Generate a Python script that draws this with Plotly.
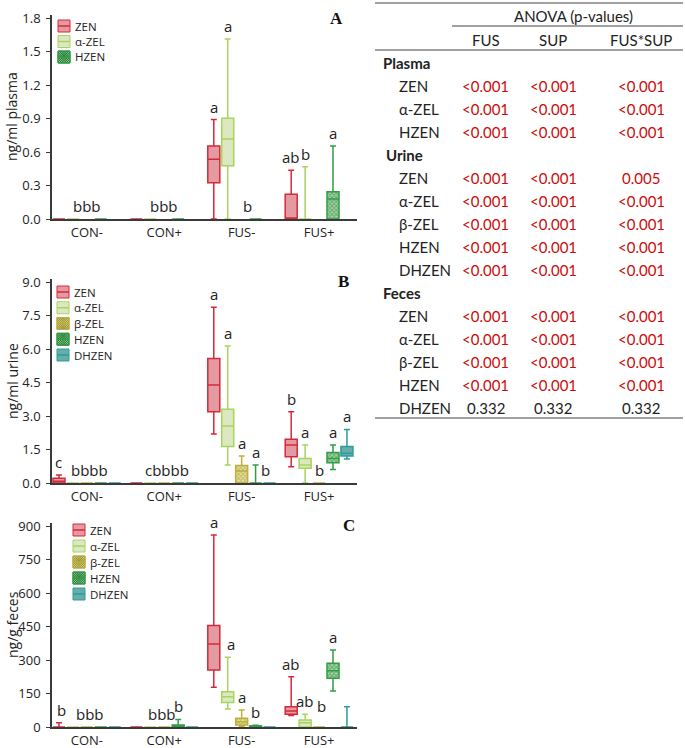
import plotly.graph_objects as go

W, H = 685, 748

categories = ["CON-", "CON+", "FUS-", "FUS+"]
compounds = ["ZEN", "α-ZEL", "β-ZEL", "HZEN", "DHZEN"]

# box statistics per group: [min, q1, median, q3, max]
plasma_zen = [[0, 0, 0, 0, 0], [0, 0, 0, 0, 0], [0, 0.325, 0.535, 0.654, 0.89], [0, 0, 0, 0.221, 0.436]]
plasma_azel = [[0, 0, 0, 0, 0], [0, 0, 0, 0, 0], [0, 0.477, 0.716, 0.902, 1.612], [0, 0, 0, 0, 0.468]]
plasma_hzen = [[0, 0, 0, 0, 0], [0, 0, 0, 0, 0], [0, 0, 0, 0, 0], [0, 0, 0.179, 0.245, 0.654]]

urine_zen = [[0, 0, 0.08, 0.21, 0.36], [0, 0, 0, 0, 0], [2.19, 3.19, 4.39, 5.58, 7.87], [0.73, 1.18, 1.70, 1.96, 3.19]]
urine_azel = [[0, 0, 0, 0, 0], [0, 0, 0, 0, 0], [0.81, 1.63, 2.55, 3.30, 6.13], [0, 0.66, 0.81, 1.10, 1.70]]
urine_bzel = [[0, 0, 0, 0, 0], [0, 0, 0, 0, 0], [0, 0, 0.54, 0.78, 1.21], [0, 0, 0, 0, 0]]
urine_hzen = [[0, 0, 0, 0, 0], [0, 0, 0, 0, 0], [0, 0, 0, 0, 0.81], [0.61, 0.91, 1.10, 1.37, 1.70]]
urine_dhzen = [[0, 0, 0, 0, 0], [0, 0, 0, 0, 0], [0, 0, 0, 0, 0], [1.07, 1.21, 1.33, 1.63, 2.40]]

feces_zen = [[0, 0, 0, 0, 19], [0, 0, 0, 0, 0], [178, 255, 372, 454, 860], [51, 57, 72, 91, 225]]
feces_azel = [[0, 0, 0, 0, 0], [0, 0, 0, 0, 0], [81, 110, 136, 158, 312], [0, 0, 19, 31, 57]]
feces_bzel = [[0, 0, 0, 0, 0], [0, 0, 0, 0, 0], [3, 9, 24, 39, 76], [0, 0, 0, 0, 0]]
feces_hzen = [[0, 0, 0, 0, 0], [0, 0, 0, 9, 34], [0, 0, 2, 5, 8], [161, 218, 252, 285, 345]]
feces_dhzen = [[0, 0, 0, 0, 0], [0, 0, 0, 0, 0], [0, 0, 0, 0, 0], [0, 0, 0, 0, 91]]

# significance letters: (group index, slot, text)
plasma_letters = [(0, 2, "bbb"), (1, 2, "bbb"), (2, 0, "a"), (2, 1, "a"), (2, 2.4, "b"),
                  (3, 0, "ab"), (3, 1, "b"), (3, 3, "a")]
urine_letters = [(0, 0, "c"), (0, 2.2, "bbbb"), (1, 2.2, "cbbbb"), (2, 0, "a"), (2, 1, "a"),
                 (2, 2, "a"), (2, 3, "a"), (2, 3.7, "b"), (3, 0, "b"), (3, 1, "a"), (3, 2, "b"),
                 (3, 3, "a"), (3, 4, "a")]
feces_letters = [(0, 0.2, "b"), (0, 2.2, "bbb"), (1, 1.85, "bbb"), (1, 3, "b"), (2, 0, "a"),
                 (2, 1.2, "a"), (2, 2, "a"), (2, 3, "b"), (3, 0, "ab"), (3, 1, "ab"),
                 (3, 2.15, "b"), (3, 3, "a")]

y_titles = ["ng/ml plasma", "ng/ml urine", "ng/g feces"]
panel_tags = ["A", "B", "C"]

# ANOVA table
anova_cols = ["FUS", "SUP", "FUS*SUP"]
plasma_rows = ["ZEN", "α-ZEL", "HZEN"]
plasma_p = [["<0.001", "<0.001", "<0.001"], ["<0.001", "<0.001", "<0.001"], ["<0.001", "<0.001", "<0.001"]]
urine_rows = ["ZEN", "α-ZEL", "β-ZEL", "HZEN", "DHZEN"]
urine_p = [["<0.001", "<0.001", "0.005"], ["<0.001", "<0.001", "<0.001"], ["<0.001", "<0.001", "<0.001"],
           ["<0.001", "<0.001", "<0.001"], ["<0.001", "<0.001", "<0.001"]]
feces_rows = ["ZEN", "α-ZEL", "β-ZEL", "HZEN", "DHZEN"]
feces_p = [["<0.001", "<0.001", "<0.001"], ["<0.001", "<0.001", "<0.001"], ["<0.001", "<0.001", "<0.001"],
           ["<0.001", "<0.001", "<0.001"], ["0.332", "0.332", "0.332"]]

# ---------------- styles ----------------
STYLE = {
    "ZEN": dict(line="#d7283a", fill="#e39aa0", hatch=None),
    "α-ZEL": dict(line="#a6d45f", fill="#dde8c3", hatch=None),
    "β-ZEL": dict(line="#bcb03a", fill="#e8e2a4", hatch="#8f8720"),
    "HZEN": dict(line="#2f9e44", fill="#a8d6a8", hatch="#17702a"),
    "DHZEN": dict(line="#2a9d9b", fill="#66aeaa", hatch=None),
}
SLOT = {c: i for i, c in enumerate(compounds)}
SLOT_STEP = 0.18
BOX_W = 0.155
FONT = "Open Sans"
TXT = "#222222"


def px(x):
    return x / W


def py(y):
    return 1 - y / H


panels = [
    dict(series={"ZEN": plasma_zen, "α-ZEL": plasma_azel, "HZEN": plasma_hzen},
         letters=plasma_letters, top=15, bottom=219, tick_top=18, vmax=1.8, dtick=0.3, fmt=".1f",
         legend=(58, 26, 15.5), tag=(336, 18.5)),
    dict(series={"ZEN": urine_zen, "α-ZEL": urine_azel, "β-ZEL": urine_bzel, "HZEN": urine_hzen,
                 "DHZEN": urine_dhzen},
         letters=urine_letters, top=279, bottom=483, tick_top=282, vmax=9.0, dtick=1.5, fmt=".1f",
         legend=(57, 292, 15.75), tag=(343, 281)),
    dict(series={"ZEN": feces_zen, "α-ZEL": feces_azel, "β-ZEL": feces_bzel, "HZEN": feces_hzen,
                 "DHZEN": feces_dhzen},
         letters=feces_letters, top=523, bottom=727, tick_top=526, vmax=900, dtick=150, fmt="d",
         legend=(73, 530, 16), tag=(349, 525)),
]

XL, XR = 52, 357
XRANGE = [-0.45, 3.49]

fig = go.Figure()
shapes = []
annotations = []
layout_axes = {}

for pi, p in enumerate(panels):
    n = "" if pi == 0 else str(pi + 1)
    xa, ya = "x" + n, "y" + n
    ymax = p["vmax"] * (p["bottom"] - p["top"]) / (p["bottom"] - p["tick_top"])
    for comp, stats in p["series"].items():
        st = STYLE[comp]
        xs = [c + (SLOT[comp] - 2) * SLOT_STEP for c in range(len(categories))]
        lo = [s[0] for s in stats]
        q1 = [s[1] for s in stats]
        med = [s[2] for s in stats]
        q3 = [s[3] for s in stats]
        hi = [s[4] for s in stats]
        if st["hatch"]:
            fig.add_trace(go.Bar(
                x=xs, y=[b - a for a, b in zip(q1, q3)], base=q1, width=BOX_W,
                marker=dict(color=st["fill"], line=dict(width=0),
                            pattern=dict(shape="x", fgcolor=st["hatch"], size=3, solidity=0.5)),
                showlegend=False, hoverinfo="skip", xaxis=xa, yaxis=ya))
            fc = "rgba(0,0,0,0)"
        else:
            fc = st["fill"]
        fig.add_trace(go.Box(
            x=xs, q1=q1, median=med, q3=q3, lowerfence=lo, upperfence=hi,
            width=BOX_W, whiskerwidth=0.5, boxpoints=False,
            line=dict(color=st["line"], width=1.5), fillcolor=fc,
            name=comp, showlegend=False, xaxis=xa, yaxis=ya))

    # letters
    comp_by_slot = {SLOT[c]: c for c in p["series"]}
    for (g, slot, txt) in p["letters"]:
        k = int(round(slot))
        base = 0
        if k in comp_by_slot:
            base = p["series"][comp_by_slot[k]][g][4]
        lift = 2
        if base == 0 and txt == "b" and pi == 2 and g == 3:
            lift = 10
        annotations.append(dict(
            x=g + (slot - 2) * SLOT_STEP, y=base, xref=xa, yref=ya, text=txt, showarrow=False,
            xanchor="center", yanchor="bottom", yshift=lift, borderpad=0,
            font=dict(family=FONT, size=15, color=TXT)))

    dom_y = [py(p["bottom"]), py(p["top"])]
    layout_axes["xaxis" + n] = dict(
        domain=[px(XL), px(XR)], anchor=ya, range=XRANGE, automargin=False,
        tickvals=list(range(len(categories))), ticktext=categories,
        showline=True, linecolor="#3a3a3a", linewidth=1.5, ticks="", showgrid=False, zeroline=False,
        ticklabelstandoff=1, tickfont=dict(family=FONT, size=13, color=TXT), fixedrange=True)
    layout_axes["yaxis" + n] = dict(
        domain=dom_y, anchor=xa, range=[0, ymax], tick0=0, dtick=p["dtick"], tickformat=p["fmt"],
        automargin=False,
        showline=True, linecolor="#3a3a3a", linewidth=1.5, ticks="outside", ticklen=4,
        tickcolor="#3a3a3a", tickwidth=1.2, showgrid=False, zeroline=False,
        ticklabelstandoff=3, tickfont=dict(family=FONT, size=13, color=TXT), fixedrange=True)

    # y title
    annotations.append(dict(
        x=px(12), y=(dom_y[0] + dom_y[1]) / 2, xref="paper", yref="paper", text=y_titles[pi],
        textangle=-90, showarrow=False, xanchor="center", yanchor="middle",
        font=dict(family=FONT, size=14, color=TXT)))
    # panel tag
    annotations.append(dict(
        x=px(p["tag"][0]), y=py(p["tag"][1]), xref="paper", yref="paper",
        text="<b>%s</b>" % panel_tags[pi], showarrow=False, xanchor="center", yanchor="middle",
        font=dict(family="Liberation Serif", size=17, color="#111111")))

    # manual legend
    lx, ly0, dy = p["legend"]
    s = 12
    for i, comp in enumerate(p["series"]):
        st = STYLE[comp]
        cy = ly0 + i * dy
        x0, x1, y0, y1 = lx, lx + s, cy - s / 2, cy + s / 2
        shapes.append(dict(type="rect", xref="paper", yref="paper",
                           x0=px(x0), x1=px(x1), y0=py(y1), y1=py(y0),
                           fillcolor=st["fill"], line=dict(color=st["line"], width=1), layer="above"))
        if st["hatch"]:
            segs = []
            step = 2.2
            c = -s
            while c < s:
                xa0, xa1 = max(0, -c), min(s, s - c)
                if xa1 > xa0:
                    segs.append(((x0 + xa0, y0 + xa0 + c), (x0 + xa1, y0 + xa1 + c)))
                c += step
            c = 0
            while c < 2 * s:
                xa0, xa1 = max(0, c - s), min(s, c)
                if xa1 > xa0:
                    segs.append(((x0 + xa0, y0 + c - xa0), (x0 + xa1, y0 + c - xa1)))
                c += step
            path = " ".join("M %.5f,%.5f L %.5f,%.5f" % (px(a[0]), py(a[1]), px(b[0]), py(b[1]))
                            for a, b in segs)
            shapes.append(dict(type="path", xref="paper", yref="paper", path=path,
                               line=dict(color=st["hatch"], width=0.8), layer="above"))
            shapes.append(dict(type="rect", xref="paper", yref="paper",
                               x0=px(x0), x1=px(x1), y0=py(y1), y1=py(y0),
                               fillcolor="rgba(0,0,0,0)", line=dict(color=st["line"], width=1),
                               layer="above"))
        shapes.append(dict(type="line", xref="paper", yref="paper",
                           x0=px(x0), x1=px(x1), y0=py(cy), y1=py(cy),
                           line=dict(color=st["line"], width=1.5), layer="above"))
        annotations.append(dict(
            x=px(x1 + 4), y=py(cy), xref="paper", yref="paper", text=comp, showarrow=False,
            xanchor="left", yanchor="middle", borderpad=0,
            font=dict(family=FONT, size=11.5, color=TXT)))

# ---------------- ANOVA table ----------------
TF = "Lato"
TL, TR = 375, 683
line_col = "#444444"
for (xa0, xa1, yy) in [(TL, TR, 3), (452, TR, 26), (TL, TR, 50), (TL, TR, 418)]:
    shapes.append(dict(type="line", xref="paper", yref="paper", x0=px(xa0), x1=px(xa1),
                       y0=py(yy), y1=py(yy), line=dict(color=line_col, width=1.2)))
annotations.append(dict(x=px(573), y=py(16), xref="paper", yref="paper", text="ANOVA (p-values)",
                        showarrow=False, xanchor="center", yanchor="middle",
                        font=dict(family=TF, size=15, color=TXT)))
col_x = [486, 553, 641]
for cx, name in zip(col_x, anova_cols):
    annotations.append(dict(x=px(cx), y=py(40), xref="paper", yref="paper", text=name,
                            showarrow=False, xanchor="center", yanchor="middle",
                            font=dict(family=TF, size=15, color=TXT)))

row_y = 63
ROW_H = 23
for sec, rows, vals, sx in [("Plasma", plasma_rows, plasma_p, 381), ("Urine", urine_rows, urine_p, 384),
                            ("Feces", feces_rows, feces_p, 381)]:
    annotations.append(dict(x=px(sx), y=py(row_y), xref="paper", yref="paper",
                            text="<b>%s</b>" % sec, showarrow=False, xanchor="left", yanchor="middle",
                            font=dict(family=TF, size=15, color=TXT)))
    row_y += ROW_H
    for rname, rv in zip(rows, vals):
        annotations.append(dict(x=px(397), y=py(row_y), xref="paper", yref="paper", text=rname,
                                showarrow=False, xanchor="left", yanchor="middle",
                                font=dict(family=TF, size=15, color=TXT)))
        for cx, v in zip(col_x, rv):
            sig = v.startswith("<") or float(v) < 0.05
            annotations.append(dict(x=px(cx), y=py(row_y), xref="paper", yref="paper", text=v,
                                    showarrow=False, xanchor="center", yanchor="middle",
                                    font=dict(family=TF, size=15, color="#cc0a0a" if sig else TXT)))
        row_y += ROW_H

fig.update_layout(
    width=W, height=H, margin=dict(l=0, r=0, t=0, b=0, autoexpand=False),
    paper_bgcolor="white", plot_bgcolor="white",
    barmode="overlay", boxmode="overlay", showlegend=False,
    shapes=shapes, annotations=annotations, **layout_axes)

fig.write_html("out.html", config={"displayModeBar": False},
               post_script="document.body.style.margin='0';document.body.style.padding='0';"
                           "document.body.style.overflow='hidden';")
